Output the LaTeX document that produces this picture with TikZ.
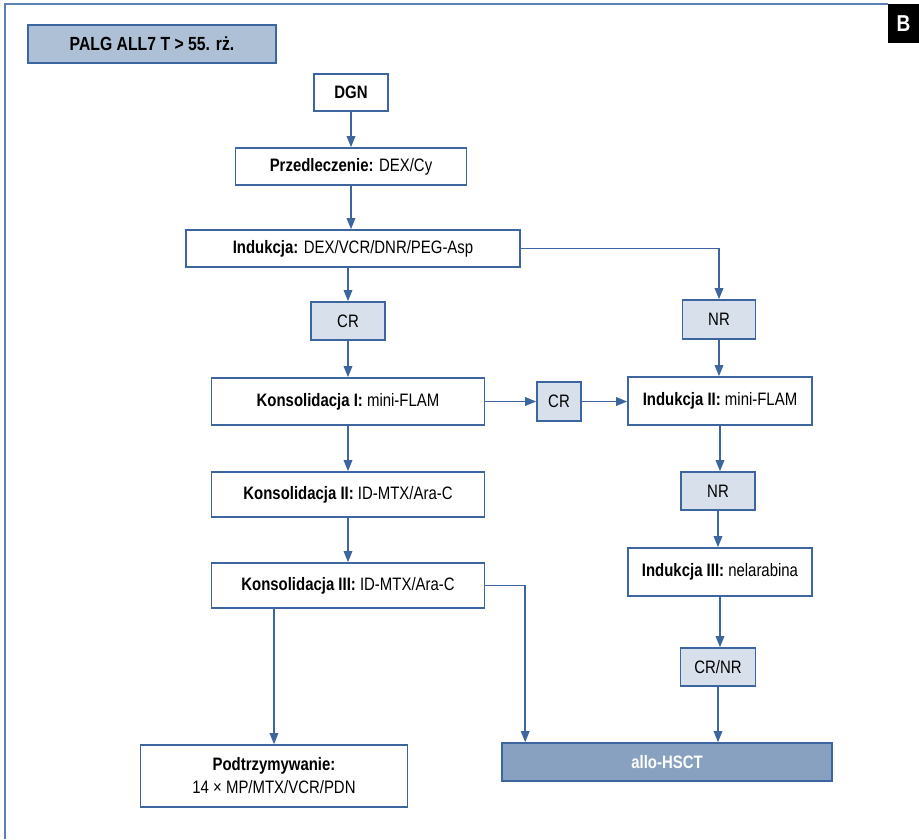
\documentclass[tikz,border=0pt]{standalone}
\usepackage{fontspec}
\setmainfont{Liberation Sans}[FakeStretch=0.83]
\usetikzlibrary{arrows.meta}
\definecolor{liniaNieb}{HTML}{3D66A0}
\definecolor{ramkaNieb}{HTML}{5A80B4}
\definecolor{tytulFill}{HTML}{ADC0D6}
\definecolor{wynikFill}{HTML}{D8E0EB}
\definecolor{alloFill}{HTML}{88A1C0}
\newcommand{\rozmiar}{\fontsize{18}{22}\selectfont}

\begin{document}
\begin{tikzpicture}[x=1pt, y=-1pt,
    blok/.style={draw=liniaNieb, line width=1.6pt, fill=white, inner sep=0pt, align=center, font=\rozmiar},
    wynik/.style={blok, fill=wynikFill},
    strzalka/.style={draw=liniaNieb, line width=1.6pt, -{Triangle[length=11pt,width=8.5pt]}}]
        \useasboundingbox (0,0) rectangle (919,839);
        % ramka i litera panelu
        \draw[ramkaNieb, line width=2pt] (888,4) -- (5,4) -- (5,839);
        \node[fill=black, text=white, inner sep=0pt, minimum width=31, minimum height=39, font=\fontsize{23}{25}\selectfont\bfseries] (panel) at (903.5,23.5) {B};
        \node[blok, fill=tytulFill, minimum width=248, minimum height=38, font=\fontsize{19}{22}\selectfont\bfseries] (tytul) at (152,44) {PALG ALL7 T > 55. rż.};
        % lewa kolumna
        \node[blok, minimum width=74, minimum height=37] (dgn) at (351,92.5) {\textbf{DGN}};
        \node[blok, minimum width=231, minimum height=37] (przed) at (351,166.5) {\textbf{Przedleczenie:} DEX/Cy};
        \node[blok, minimum width=334, minimum height=37] (ind) at (353,248.5) {\textbf{Indukcja:} DEX/VCR/DNR/PEG-Asp};
        \node[wynik, minimum width=74, minimum height=38] (cr1) at (348,321) {CR};
        \node[blok, minimum width=273, minimum height=47] (kons1) at (348,401.5) {\textbf{Konsolidacja I:} mini-FLAM};
        \node[blok, minimum width=273, minimum height=45] (kons2) at (348,494.5) {\textbf{Konsolidacja II:} ID-MTX/Ara-C};
        \node[blok, minimum width=273, minimum height=45] (kons3) at (348,585.5) {\textbf{Konsolidacja III:} ID-MTX/Ara-C};
        \node[blok, minimum width=267, minimum height=62] (podtrz) at (274,776) {\textbf{Podtrzymywanie:}\\[1pt]14 × MP/MTX/VCR/PDN};
        % prawa kolumna
        \node[wynik, minimum width=44, minimum height=39] (cr2) at (559,401.5) {CR};
        \node[wynik, minimum width=73, minimum height=39] (nr1) at (719,319.5) {NR};
        \node[blok, minimum width=184, minimum height=48] (ind2) at (720,401) {\textbf{Indukcja II:} mini-FLAM};
        \node[wynik, minimum width=74, minimum height=38] (nr2) at (718,491) {NR};
        \node[blok, minimum width=184, minimum height=48] (ind3) at (720,572) {\textbf{Indukcja III:} nelarabina};
        \node[wynik, minimum width=75, minimum height=38] (crnr) at (718,667) {CR/NR};
        \node[blok, fill=alloFill, text=white, minimum width=330, minimum height=38, font=\rozmiar\bfseries] (allo) at (667,762) {allo-HSCT};
        % strzalki
        \draw[strzalka] (dgn.south) -- (dgn.south |- przed.north);
        \draw[strzalka] (przed.south) -- (przed.south |- ind.north);
        \foreach \a/\b in {ind/cr1, cr1/kons1, kons1/kons2, kons2/kons3} {
            \draw[strzalka] (\b |- \a.south) -- (\b.north);
        }
        \draw[strzalka] (ind.east) -| (nr1.north);
        \draw[strzalka] (kons1.east) -- (cr2.west);
        \draw[strzalka] (cr2.east) -- (cr2.east -| ind2.west);
        \foreach \a/\b in {nr1/ind2, ind2/nr2, nr2/ind3, ind3/crnr} {
            \draw[strzalka] (\a.south) -- (\a.south |- \b.north);
        }
        \draw[strzalka] (crnr.south) -- (crnr.south |- allo.north);
        \draw[strzalka] (kons3.south -| podtrz) -- (podtrz.north);
        \draw[strzalka] (kons3.east) -| ([xshift=24pt]allo.north west);
    \end{tikzpicture}
\end{document}
